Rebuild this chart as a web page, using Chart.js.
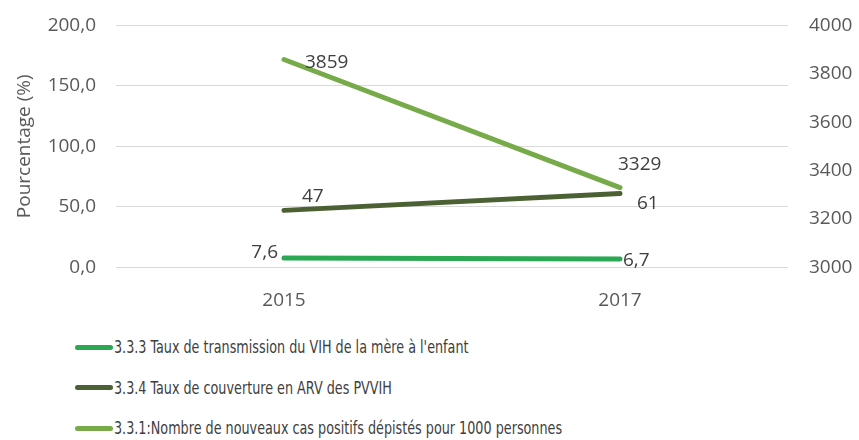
<!DOCTYPE html>
<html>
<head>
<meta charset="utf-8">
<script src="https://cdn.jsdelivr.net/npm/chart.js@4.4.0/dist/chart.umd.min.js"></script>
<style>
  html, body { margin: 0; padding: 0; background: #fff; overflow: hidden; }
  #wrap { position: relative; width: 859px; height: 326px; }
  #chart { position: absolute; left: 0; top: -7px; }
  #legend { position: absolute; left: 75px; top: 337px; font-family: "DejaVu Sans Condensed", sans-serif; font-size: 17px; color: #404040; }
  .item { display: flex; align-items: center; height: 20px; margin-bottom: 20.5px; white-space: nowrap; }
  .swatch { width: 38px; height: 5px; border-radius: 3px; margin-right: 1px; flex: none; }
  .txt { display: inline-block; transform: scaleX(0.835); transform-origin: left center; }
</style>
</head>
<body>
<div id="wrap"><canvas id="chart" width="859" height="333"></canvas></div>
<div id="legend"></div>
<script>
// data
const years       = ["2015", "2017"];
const transmission = [7.6, 6.7];      // 3.3.3, left axis (%)
const couverture   = [47, 61];        // 3.3.4, left axis (%)
const nouveauxCas  = [3859, 3329];    // 3.3.1, right axis
const seriesNames = [
  "3.3.3 Taux de transmission du VIH de la mère à l'enfant",
  "3.3.4 Taux de couverture en ARV des PVVIH",
  "3.3.1:Nombre de nouveaux cas positifs dépistés pour 1000 personnes"
];
const colors = ["#2aa853", "#4b6133", "#77ab4a"];

// label offsets per series/point (dx, dy, align)
const labelPos = [
  [[-6, -5, "right"], [3, 1, "left"]],
  [[18, -14, "left"], [17, 10, "left"]],
  [[21, 3, "left"], [-2, -23, "left"]]
];
const fmt = [v => v.toFixed(1).replace(".", ","), v => String(v), v => String(v)];

const dataLabels = {
  id: "dataLabels",
  afterDatasetsDraw(chart) {
    const c = chart.ctx;
    c.save();
    c.font = "19px 'Open Sans'";
    c.fillStyle = "#404040";
    c.textBaseline = "middle";
    chart.data.datasets.forEach((ds, i) => {
      chart.getDatasetMeta(i).data.forEach((pt, j) => {
        const p = labelPos[i][j];
        c.textAlign = p[2];
        c.fillText(fmt[i](ds.data[j]), pt.x + p[0], pt.y + p[1]);
      });
    });
    c.restore();
  }
};

const tickFont = { family: "Open Sans", size: 19 };
new Chart(document.getElementById("chart"), {
  type: "line",
  data: {
    labels: years,
    datasets: [
      { label: seriesNames[0], data: transmission, yAxisID: "y" },
      { label: seriesNames[1], data: couverture, yAxisID: "y" },
      { label: seriesNames[2], data: nouveauxCas, yAxisID: "y1" }
    ].map((d, i) => Object.assign(d, {
      borderColor: colors[i], backgroundColor: colors[i],
      borderWidth: 5, pointRadius: 0, borderCapStyle: "round", tension: 0
    }))
  },
  options: {
    responsive: false,
    animation: false,
    layout: { padding: { left: 0, right: 0, top: 0, bottom: 0 } },
    plugins: { legend: { display: false }, tooltip: { enabled: false } },
    scales: {
      x: {
        offset: true,
        grid: { display: false },
        border: { display: false },
        ticks: { font: tickFont, color: "#595959", padding: 14 }
      },
      y: {
        position: "left",
        min: 0, max: 200,
        afterFit: a => { a.width = 116; },
        ticks: { stepSize: 50, font: tickFont, color: "#595959", padding: 20,
                 callback: v => v.toFixed(1).replace(".", ",") },
        grid: { color: "#d9d9d9", lineWidth: 1, drawTicks: false },
        border: { display: false },
        title: { display: true, text: "Pourcentage (%)", font: tickFont, color: "#595959", padding: 13 }
      },
      y1: {
        position: "right",
        min: 3000, max: 4000,
        afterFit: a => { a.width = 71; },
        ticks: { stepSize: 200, font: tickFont, color: "#595959", padding: 21,
                 callback: v => String(v) },
        grid: { display: false, drawTicks: false },
        border: { display: false }
      }
    }
  },
  plugins: [dataLabels]
});

const legend = document.getElementById("legend");
seriesNames.forEach((name, i) => {
  const row = document.createElement("div");
  row.className = "item";
  row.innerHTML = '<span class="swatch" style="background:' + colors[i] + '"></span><span class="txt">' + name + '</span>';
  legend.appendChild(row);
});
</script>
</body>
</html>
